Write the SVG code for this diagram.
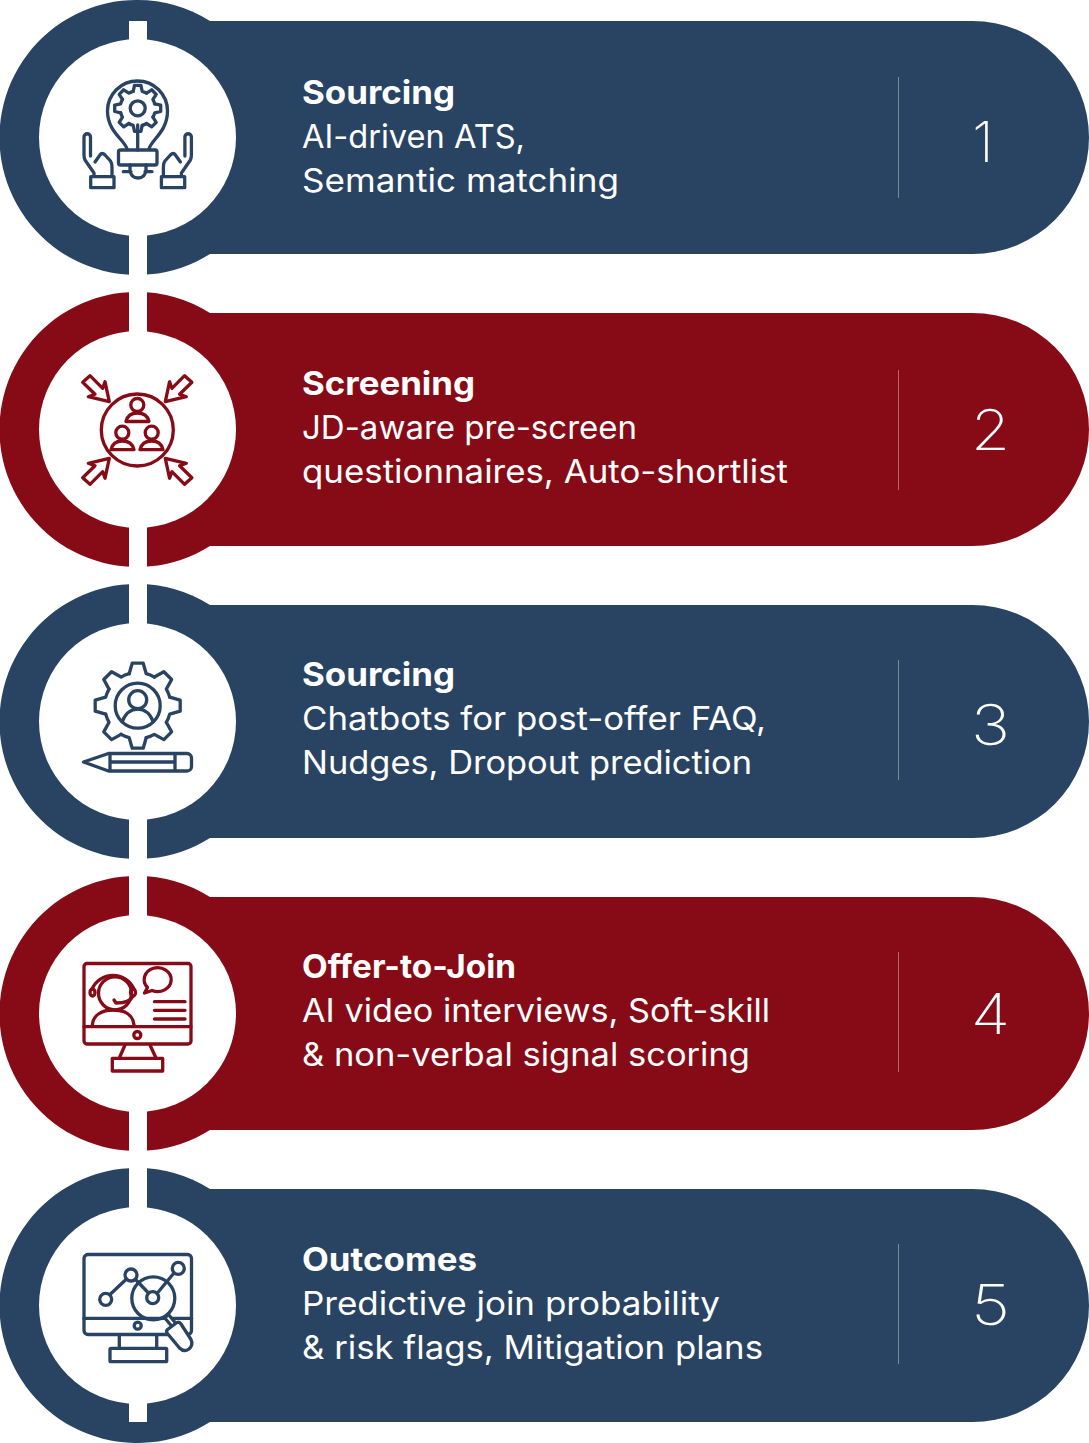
<svg xmlns="http://www.w3.org/2000/svg" width="1089" height="1443" viewBox="0 0 1089 1443">
<style>
.blue{fill:#294362;color:#294362}
.red{fill:#870b16;color:#870b16}
.hole{fill:#fff}
.ic{fill:none;stroke:currentColor;stroke-width:3.3;stroke-linejoin:round;stroke-linecap:round}
.icw{fill:#fff;stroke:currentColor;stroke-width:3.3;stroke-linejoin:round;stroke-linecap:round}
.t{font-family:Inter,"Liberation Sans",sans-serif;font-size:32.5px;fill:#fff;font-weight:400}
.h{font-weight:700}
.n{font-family:Inter,"Liberation Sans",sans-serif;font-size:56px;font-weight:250;fill:#fff}
.div{stroke:#fff;stroke-opacity:.38;stroke-width:1}
</style>
<defs>
<path id="disc" d="M137.5,0A137.5,137.5 0 0 1 210,21H972.5A116.5,116.5 0 0 1 972.5,254H210A137.5,137.5 0 1 1 137.5,0Z"/>
<path id="tooth1" d="M-4.5,-17L-3.2,-23H3.2L4.5,-17A17,17 0 0 1 8.84,-15.2" class="ic"/>
<path id="tooth3" d="M-8.5,-32L-5.5,-42.5H5.5L8.5,-32A32,32 0 0 1 16.62,-28.64" class="ic"/>
<path id="arrow" class="ic" d="M109.3,401.7L88.3,396.7L95,394.3L82.7,382.3L90,375.7L102.7,388.3L105,381.7Z"/>
<path id="lhand" class="ic" d="M94,176V173L85,160Q84,158 84,155V137A3.2,3.2 0 0 1 90.5,137V156M95,162L100,155Q102,152 105,155L110.500,161Q112,163 112,167V176"/>
</defs>

<g id="connectors"></g>

<g id="step-1" class="blue">
<use href="#disc"/>
<circle class="hole" cx="137.500" cy="137.500" r="98.500"/>
<rect class="hole" x="129" y="21" width="18" height="30"/>
<rect class="hole" x="129" y="225" width="18" height="52"/>
<g id="icon-1">
<path class="ic" d="M127,149C125,140 107.500,132 107.500,111A30,30 0 0 1 167.500,111C167.500,132 151,140 149,149"/>
<g transform="translate(137.700,108.300)">
<use href="#tooth1"/><use href="#tooth1" transform="rotate(45)"/><use href="#tooth1" transform="rotate(90)"/><use href="#tooth1" transform="rotate(135)"/><use href="#tooth1" transform="rotate(180)"/><use href="#tooth1" transform="rotate(225)"/><use href="#tooth1" transform="rotate(270)"/><use href="#tooth1" transform="rotate(315)"/>
<circle class="ic" r="7.500"/>
</g>
<path class="ic" d="M137.700,125V150"/>
<rect class="ic" x="118.500" y="150" width="38.500" height="15" rx="2"/>
<path class="ic" d="M130,165V170Q131,178 138,178Q145,178 146,170V165M123.300,171.700H131M145,171.700H152"/>
<use href="#lhand"/>
<use href="#lhand" transform="translate(275.400,0) scale(-1,1)"/>
<rect class="ic" x="90.700" y="176.700" width="23.300" height="11"/>
<rect class="ic" x="161.400" y="176.700" width="23.300" height="11"/>
</g>
<line class="div" x1="898.500" y1="77" x2="898.500" y2="198"/>
<text class="t h" x="302" y="104" textLength="153" lengthAdjust="spacingAndGlyphs">Sourcing</text>
<text class="t" x="302" y="148" textLength="223" lengthAdjust="spacingAndGlyphs">AI-driven ATS,</text>
<text class="t" x="302" y="192" textLength="317" lengthAdjust="spacingAndGlyphs">Semantic matching</text>
<text class="n" x="983" y="162" text-anchor="middle">1</text>
</g>

<g id="step-2" class="red">
<use href="#disc" y="292"/>
<circle class="hole" cx="137.500" cy="429.500" r="98.500"/>
<rect class="hole" x="129" y="290" width="18" height="52"/>
<rect class="hole" x="129" y="517" width="18" height="52"/>
<g id="icon-2">
<circle class="ic" cx="137.300" cy="430" r="36"/>
<circle class="ic" cx="137.300" cy="405" r="6.500"/>
<path class="ic" d="M126,421.500Q128,413 137.300,413Q147,413 149,421.500Z"/>
<circle class="ic" cx="122.300" cy="432.700" r="6.500"/>
<path class="ic" d="M111,449.700Q113,441 122.300,441Q132,441 134,449.700Z"/>
<circle class="ic" cx="151.700" cy="432.700" r="6.500"/>
<path class="ic" d="M140,449.700Q142,441 151.700,441Q161,441 163,449.700Z"/>
<use href="#arrow"/>
<use href="#arrow" transform="translate(274.600,0) scale(-1,1)"/>
<use href="#arrow" transform="translate(0,860) scale(1,-1)"/>
<use href="#arrow" transform="translate(274.600,860) scale(-1,-1)"/>
</g>
<line class="div" x1="898.500" y1="370" x2="898.500" y2="490"/>
<text class="t h" x="302" y="395" textLength="173" lengthAdjust="spacingAndGlyphs">Screening</text>
<text class="t" x="302" y="439" textLength="335" lengthAdjust="spacingAndGlyphs">JD-aware pre-screen</text>
<text class="t" x="302" y="483" textLength="486" lengthAdjust="spacingAndGlyphs">questionnaires, Auto-shortlist</text>
<text class="n" x="971" y="450" textLength="39" lengthAdjust="spacingAndGlyphs">2</text>
</g>

<g id="step-3" class="blue">
<use href="#disc" y="584"/>
<circle class="hole" cx="137.500" cy="721.500" r="98.500"/>
<rect class="hole" x="129" y="582" width="18" height="52"/>
<rect class="hole" x="129" y="809" width="18" height="52"/>
<g id="icon-3">
<g transform="translate(137.700,705.700)">
<use href="#tooth3"/><use href="#tooth3" transform="rotate(45)"/><use href="#tooth3" transform="rotate(90)"/><use href="#tooth3" transform="rotate(135)"/><use href="#tooth3" transform="rotate(180)"/><use href="#tooth3" transform="rotate(225)"/><use href="#tooth3" transform="rotate(270)"/><use href="#tooth3" transform="rotate(315)"/>
<circle class="ic" r="22.500"/>
<circle class="ic" cy="-6" r="9"/>
<path class="ic" d="M-15.500,16C-12,7 -6,3.500 0,3.500C6,3.500 12,7 15.500,16"/>
</g>
<path class="ic" d="M83.500,762L108.500,753.500H187A4.500,4.500 0 0 1 191.500,758V766.500A4.500,4.500 0 0 1 187,771H108.500Z"/>
<path class="ic" d="M110,754V770M175,754V770M110,762H175"/>
</g>
<line class="div" x1="898.500" y1="660" x2="898.500" y2="780"/>
<text class="t h" x="302" y="686" textLength="153" lengthAdjust="spacingAndGlyphs">Sourcing</text>
<text class="t" x="302" y="730" textLength="464" lengthAdjust="spacingAndGlyphs">Chatbots for post-offer FAQ,</text>
<text class="t" x="302" y="774" textLength="450" lengthAdjust="spacingAndGlyphs">Nudges, Dropout prediction</text>
<text class="n" x="971" y="745" textLength="39" lengthAdjust="spacingAndGlyphs">3</text>
</g>

<g id="step-4" class="red">
<use href="#disc" y="876"/>
<circle class="hole" cx="137.500" cy="1013.500" r="98.500"/>
<rect class="hole" x="129" y="874" width="18" height="52"/>
<rect class="hole" x="129" y="1101" width="18" height="52"/>
<g id="icon-4">
<rect class="ic" x="84" y="963.500" width="107" height="80.500" rx="3"/>
<path class="ic" d="M84,1026.700H191"/>
<circle class="ic" cx="137.300" cy="1035" r="3.500"/>
<path class="ic" d="M125,1045L119.300,1058M150,1045L156,1058"/>
<rect class="ic" x="112.300" y="1058.300" width="50.400" height="12.700"/>
<circle class="ic" cx="115" cy="993.300" r="16.500"/>
<path class="ic" d="M92,989A23,23 0 0 1 134,989"/>
<ellipse class="ic" cx="92.500" cy="992.500" rx="2.500" ry="3.500"/>
<ellipse class="ic" cx="133" cy="992.500" rx="2.500" ry="3.500"/>
<path class="ic" d="M133,996Q130,1003 116,1003L114,1000"/>
<path class="ic" d="M92.300,1025C93,1015 102,1010 113.300,1010C125,1010 133,1015 134,1025"/>
<path class="ic" d="M144.500,993L147.500,987.500A13.500,12 0 1 1 152,990.500Z"/>
<path class="ic" d="M154.500,1001.700H185M154.500,1010.300H185M154.500,1019H185"/>
</g>
<line class="div" x1="898.500" y1="952" x2="898.500" y2="1072"/>
<text class="t h" x="302" y="978" textLength="214" lengthAdjust="spacingAndGlyphs">Offer-to-Join</text>
<text class="t" x="302" y="1022" textLength="468" lengthAdjust="spacingAndGlyphs">AI video interviews, Soft-skill</text>
<text class="t" x="302" y="1066" textLength="448" lengthAdjust="spacingAndGlyphs">&amp; non-verbal signal scoring</text>
<text class="n" x="971" y="1034" textLength="39" lengthAdjust="spacingAndGlyphs">4</text>
</g>

<g id="step-5" class="blue">
<use href="#disc" y="1168"/>
<circle class="hole" cx="137.500" cy="1305.500" r="98.500"/>
<rect class="hole" x="129" y="1166" width="18" height="52"/>
<rect class="hole" x="129" y="1393" width="18" height="29"/>
<g id="icon-5">
<rect class="ic" x="84" y="1254.500" width="107.500" height="80" rx="4"/>
<path class="ic" d="M84,1318.300H191.500"/>
<circle class="ic" cx="137.700" cy="1325.700" r="3.500"/>
<path class="ic" d="M119.300,1335V1348M156.700,1335V1348"/>
<rect class="ic" x="110" y="1348.300" width="56.700" height="13.400" rx="1"/>
<path class="ic" d="M110,1294.500L126.500,1279M135.500,1279.500L148.500,1293M157,1293.500L174,1273"/>
<circle class="ic" cx="153.300" cy="1298.300" r="21.500"/>
<circle class="ic" cx="105.700" cy="1299.300" r="6"/>
<circle class="ic" cx="131" cy="1275" r="6"/>
<circle class="ic" cx="152.700" cy="1297.700" r="6"/>
<circle class="ic" cx="178.300" cy="1268.300" r="6"/>
<path class="icw" d="M165,1318.300L172,1326.500L176,1323.500L168,1314Z"/>
<path class="icw" d="M167.500,1329.500L177,1322.500Q179.500,1321.500 181,1324L191,1339.500Q193.500,1345 189,1349Q184,1352.500 179.500,1348L167,1333Q166,1331 167.500,1329.500Z"/>
</g>
<line class="div" x1="898.500" y1="1244" x2="898.500" y2="1364"/>
<text class="t h" x="302" y="1271" textLength="175" lengthAdjust="spacingAndGlyphs">Outcomes</text>
<text class="t" x="302" y="1315" textLength="418" lengthAdjust="spacingAndGlyphs">Predictive join probability</text>
<text class="t" x="302" y="1359" textLength="461" lengthAdjust="spacingAndGlyphs">&amp; risk flags, Mitigation plans</text>
<text class="n" x="971" y="1325" textLength="39" lengthAdjust="spacingAndGlyphs">5</text>
</g>
</svg>
